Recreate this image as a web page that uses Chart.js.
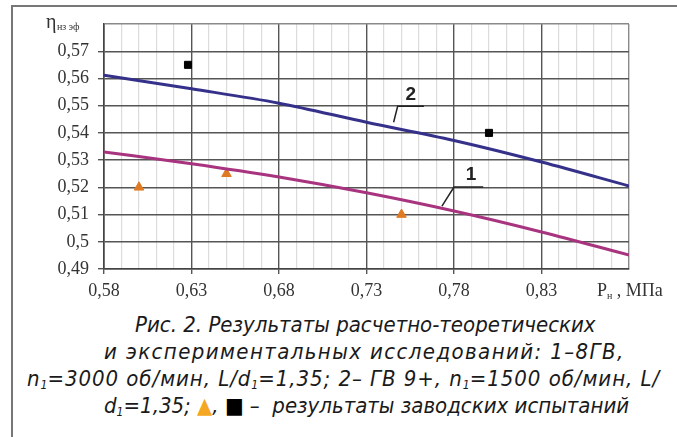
<!DOCTYPE html>
<html>
<head>
<meta charset="utf-8">
<script src="https://cdn.jsdelivr.net/npm/chart.js@4"></script>
<style>
  html, body { margin: 0; padding: 0; background: #fff; }
  #wrap { position: relative; width: 677px; height: 437px; overflow: hidden; }
  #frame { position: absolute; left: 11px; top: 5px; width: 700px; height: 460px;
           border-top: 2px solid #777; border-left: 2px solid #777; }
  #chartBox { position: absolute; left: 0; top: 0; width: 677px; height: 300px; }
  .cap { position: absolute; white-space: nowrap; color: #1a1a1a;
         font-family: "Liberation Sans Narrow", "DejaVu Sans Condensed", "Liberation Sans", sans-serif;
         font-style: italic; font-size: 22px; line-height: 26px; }
  .cap sub { font-size: 12px; vertical-align: -3px; line-height: 0; letter-spacing: 0; }
</style>
</head>
<body>
<div id="wrap">
  <div id="frame"></div>
  <div id="chartBox"><canvas id="effChart" width="677" height="300"></canvas></div>
  <div class="cap" style="top:312px; left:135px">Рис. 2. Результаты расчетно-теоретических</div>
  <div class="cap" style="top:339px; left:104px; letter-spacing:1.4px">и экспериментальных исследований: 1–8ГВ,</div>
  <div class="cap" style="top:366px; left:27px; letter-spacing:0.95px">n<sub>1</sub>=3000 об/мин, L/d<sub>1</sub>=1,35; 2– ГВ 9+, n<sub>1</sub>=1500 об/мин, L/</div>
  <div class="cap" style="top:393px; left:104px">d<sub>1</sub>=1,35; <span style="color:#f5a623">▲</span>, <span style="color:#000">■</span> –&nbsp; результаты заводских испытаний</div>
</div>
<script>
// давление на входе, МПа
const pressure = [0.58, 0.63, 0.68, 0.73, 0.78, 0.83, 0.88];
// расчетные кривые КПД
const effCurve1 = [0.533, 0.5287, 0.5238, 0.518, 0.5113, 0.5036, 0.4951]; // 1 - 8ГВ
const effCurve2 = [0.5612, 0.5562, 0.5509, 0.5439, 0.5372, 0.5293, 0.5205]; // 2 - ГВ 9+
// заводские испытания
const triangleX = [0.60, 0.65, 0.75];
const triangleY = [0.52, 0.525, 0.51];
const squareX = [0.628, 0.80];
const squareY = [0.565, 0.54];
// оси
const xMin = 0.58, xMax = 0.88, xStep = 0.01;
const yMin = 0.49, yMax = 0.58, yStep = 0.01;
// подписи кривых: [номер, x текста, y текста, x полки, y полки, x конца полки, x выноски, y выноски]
const curveLabels = [
  ["2", 0.7553, 0.5540, 0.7478, 0.5498, 0.7628, 0.7455, 0.5439],
  ["1", 0.7898, 0.5246, 0.78, 0.5201, 0.7967, 0.7731, 0.5131],
];

const toPts = (xs, ys) => xs.map((x, i) => ({ x: x, y: ys[i] }));
const fmt = (v) => String(Math.round(v * 100) / 100).replace(".", ",");
const isMajorX = (v) => Math.round((v - xMin) * 100) % 5 === 0;

const labelsPlugin = {
  id: "labelsPlugin",
  afterDraw(chart) {
    const ctx = chart.ctx;
    const xs = chart.scales.x;
    const ys = chart.scales.y;
    ctx.save();
    // подписи кривых с выносками
    curveLabels.forEach((l) => {
      ctx.strokeStyle = "#222";
      ctx.lineWidth = 1.5;
      ctx.beginPath();
      ctx.moveTo(xs.getPixelForValue(l[6]), ys.getPixelForValue(l[7]));
      ctx.lineTo(xs.getPixelForValue(l[3]), ys.getPixelForValue(l[4]));
      ctx.lineTo(xs.getPixelForValue(l[5]), ys.getPixelForValue(l[4]));
      ctx.stroke();
      ctx.fillStyle = "#222";
      ctx.font = "bold 19px 'Liberation Sans', sans-serif";
      ctx.textAlign = "center";
      ctx.textBaseline = "middle";
      ctx.fillText(l[0], xs.getPixelForValue(l[1]), ys.getPixelForValue(l[2]));
    });
    // обозначение оси Y
    ctx.fillStyle = "#333";
    ctx.textAlign = "left";
    ctx.textBaseline = "alphabetic";
    ctx.font = "20px 'Liberation Serif', serif";
    ctx.fillText("η", 46, 28);
    ctx.font = "10px 'Liberation Serif', serif";
    ctx.fillText("нз эф", 57, 30);
    // обозначение оси X
    const xl = xs.getPixelForValue(xMax) - 32;
    ctx.font = "18px 'Liberation Serif', serif";
    ctx.fillText("P", xl, 296);
    let w = ctx.measureText("P").width;
    ctx.font = "10px 'Liberation Serif', serif";
    ctx.fillText("н", xl + w, 299);
    w += ctx.measureText("н").width;
    ctx.font = "18px 'Liberation Serif', serif";
    ctx.fillText(" , МПа", xl + w, 296);
    ctx.restore();
  },
};

new Chart(document.getElementById("effChart"), {
  type: "scatter",
  data: {
    datasets: [
      {
        label: "2",
        data: toPts(pressure, effCurve2),
        showLine: true,
        borderColor: "#35318a",
        borderWidth: 3,
        pointRadius: 0,
        cubicInterpolationMode: "monotone",
      },
      {
        label: "1",
        data: toPts(pressure, effCurve1),
        showLine: true,
        borderColor: "#a8347f",
        borderWidth: 3,
        pointRadius: 0,
        cubicInterpolationMode: "monotone",
      },
      {
        label: "▲",
        data: toPts(triangleX, triangleY),
        pointStyle: "triangle",
        pointRadius: 5.5,
        backgroundColor: "#e07a22",
        borderColor: "#e07a22",
      },
      {
        label: "■",
        data: toPts(squareX, squareY),
        pointStyle: "rect",
        pointRadius: 5,
        backgroundColor: "#000",
        borderColor: "#000",
      },
    ],
  },
  options: {
    responsive: false,
    animation: false,
    layout: { padding: { left: 0, right: 48, top: 24, bottom: 0 } },
    plugins: { legend: { display: false }, tooltip: { enabled: false } },
    scales: {
      x: {
        type: "linear",
        min: xMin,
        max: xMax,
        afterFit: (s) => { s.height = 31; },
        ticks: {
          stepSize: xStep,
          autoSkip: false,
          maxRotation: 0,
          padding: 6,
          color: "#333",
          font: { family: "'Liberation Serif', serif", size: 18 },
          callback: (v) => (isMajorX(v) && v < xMax - 0.001 ? fmt(v) : ""),
        },
        grid: {
          color: (c) => {
            const v = c.tick.value;
            if (v > xMax - 0.001) return "#8a8a8a";
            return isMajorX(v) ? "#555" : "#dcdcdc";
          },
          lineWidth: (c) => (isMajorX(c.tick.value) ? 1.4 : 1.2),
          tickLength: 5,
          tickColor: (c) => (isMajorX(c.tick.value) && c.tick.value < xMax - 0.001 ? "#555" : "rgba(0,0,0,0)"),
        },
        border: { display: true, color: "#444", width: 1.6 },
      },
      y: {
        type: "linear",
        min: yMin,
        max: yMax,
        afterFit: (s) => { s.width = 104; },
        ticks: {
          stepSize: yStep,
          autoSkip: false,
          padding: 9,
          color: "#333",
          font: { family: "'Liberation Serif', serif", size: 18 },
          callback: (v) => (v < yMax - 0.001 ? fmt(v) : ""),
        },
        grid: {
          color: (c) => (c.tick.value > yMax - 0.001 ? "#8a8a8a" : "#555"),
          lineWidth: 1.4,
          tickLength: 6,
          tickColor: (c) => (c.tick.value > yMax - 0.001 ? "rgba(0,0,0,0)" : "#555"),
        },
        border: { display: true, color: "#444", width: 1.6 },
      },
    },
  },
  plugins: [labelsPlugin],
});
</script>
</body>
</html>
